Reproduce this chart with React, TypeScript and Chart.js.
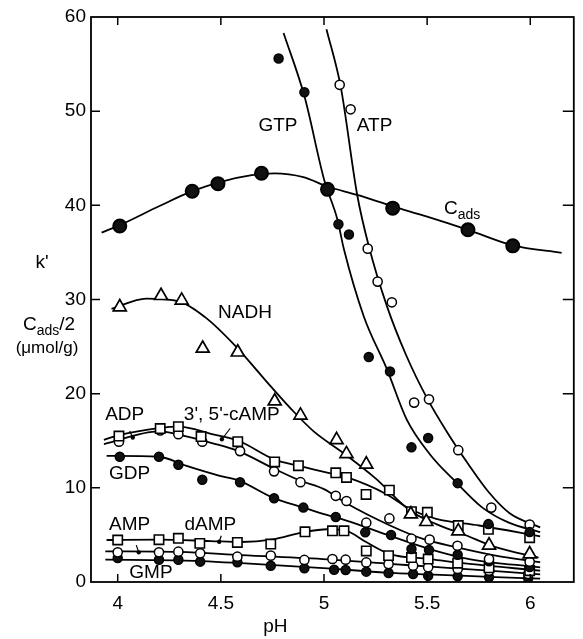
import { useEffect, useRef } from 'react';
import { Chart, registerables } from 'chart.js';

Chart.register(...registerables);

type P = [number, number];

// Axis ticks
const X_TICKS = [4, 4.5, 5, 5.5, 6];
const X_TICK_LABELS = ['4', '4.5', '5', '5.5', '6'];
const Y_TICKS = [0, 10, 20, 30, 40, 50, 60];
const Y_TICK_LABELS = ['0', '10', '20', '30', '40', '50', '60'];

// C_ads
const CADS_POINTS: P[] = [[4.01, 37.8], [4.361, 41.5], [4.486, 42.3], [4.697, 43.4], [5.017, 41.7], [5.333, 39.7], [5.698, 37.4], [5.915, 35.7]];
const CADS_CURVE: P[] = [[3.922, 37.1], [4.01, 37.9], [4.2, 39.9], [4.361, 41.5], [4.5, 42.5], [4.65, 43.2], [4.76, 43.4], [4.9, 43.0], [5.017, 42.0], [5.161, 41.1], [5.333, 39.9], [5.5, 38.8], [5.698, 37.4], [5.915, 35.75], [6.152, 34.96]];

// GTP
const GTP_POINTS: P[] = [[4.78, 55.6], [4.905, 52.0], [5.07, 38.0], [5.121, 36.9], [5.217, 23.9], [5.32, 22.35], [5.424, 14.3], [5.505, 15.3], [5.648, 10.5], [5.797, 6.15], [5.997, 5.3]];
const GTP_CURVE: P[] = [[4.804, 58.3], [4.905, 51.6], [5.001, 42.7], [5.065, 38.5], [5.097, 35.3], [5.193, 28.2], [5.305, 22.6], [5.4, 17.3], [5.512, 13.6], [5.64, 10.6], [5.768, 7.9], [5.896, 6.3], [6.048, 5.3]];

// ATP
const ATP_POINTS: P[] = [[5.076, 52.8], [5.129, 50.2], [5.212, 35.4], [5.26, 31.9], [5.329, 29.7], [5.437, 19.05], [5.509, 19.4], [5.651, 14.0], [5.811, 7.9], [5.997, 6.1]];
const ATP_CURVE: P[] = [[5.012, 58.7], [5.081, 52.6], [5.161, 41.1], [5.218, 35.6], [5.305, 29.3], [5.4, 24.0], [5.5, 19.5], [5.6, 15.8], [5.7, 12.5], [5.8, 9.5], [5.9, 7.3], [6.048, 5.8]];

// NADH
const NADH_POINTS: P[] = [[4.01, 29.2], [4.21, 30.4], [4.31, 29.9], [4.412, 24.8], [4.582, 24.4], [4.761, 19.2], [4.886, 17.7], [5.061, 15.1], [5.109, 13.6], [5.205, 12.5], [5.421, 7.2], [5.496, 6.4], [5.651, 5.4], [5.8, 3.9], [5.997, 2.97]];
const NADH_CURVE: P[] = [[3.97, 29.0], [4.138, 30.1], [4.297, 29.8], [4.425, 28.1], [4.569, 25.1], [4.713, 21.5], [4.857, 18.0], [4.95, 16.0], [5.1, 13.6], [5.25, 11.0], [5.416, 7.6], [5.544, 6.15], [5.672, 5.1], [5.832, 3.7], [6.04, 2.6]];

// ADP
const ADP_POINTS: P[] = [[4.006, 15.5], [4.206, 16.3], [4.294, 16.5], [4.404, 15.45], [4.582, 14.9], [4.761, 12.75], [4.876, 12.35], [5.057, 11.6], [5.109, 11.1], [5.204, 9.3], [5.317, 9.76], [5.424, 7.47], [5.501, 7.4], [5.651, 6.0], [5.797, 5.6], [5.997, 4.7]];
const ADP_CURVE: P[] = [[3.933, 15.1], [4.006, 15.6], [4.2, 16.35], [4.297, 16.5], [4.457, 15.7], [4.585, 15.0], [4.761, 13.0], [4.876, 12.35], [5.0, 11.7], [5.113, 11.1], [5.305, 9.3], [5.416, 7.75], [5.544, 6.7], [5.752, 6.0], [6.048, 4.85]];

// 3',5'-cAMP
const CAMP_POINTS: P[] = [[4.006, 14.9], [4.206, 16.1], [4.294, 15.7], [4.41, 14.9], [4.593, 13.9], [4.758, 11.75], [4.886, 10.6], [5.057, 9.15], [5.109, 8.6], [5.205, 6.3], [5.317, 6.75], [5.424, 4.6], [5.512, 4.5], [5.647, 3.85], [5.8, 2.44], [5.997, 2.15]];
const CAMP_CURVE: P[] = [[3.933, 14.65], [4.2, 16.0], [4.297, 15.65], [4.457, 14.75], [4.585, 13.9], [4.761, 12.0], [4.886, 10.75], [5.0, 9.86], [5.113, 8.3], [5.32, 6.0], [5.48, 4.57], [5.64, 3.7], [5.832, 2.8], [6.048, 2.1]];

// GDP
const GDP_POINTS: P[] = [[4.01, 13.3], [4.2, 13.3], [4.294, 12.45], [4.41, 10.85], [4.593, 10.6], [4.758, 8.9], [4.9, 7.9], [5.057, 6.9], [5.2, 5.27], [5.325, 5.0], [5.424, 3.5], [5.509, 3.4], [5.648, 2.9], [5.8, 2.2], [5.997, 1.6]];
const GDP_CURVE: P[] = [[3.946, 13.4], [4.2, 13.3], [4.33, 12.35], [4.49, 11.3], [4.585, 10.8], [4.758, 8.9], [4.9, 7.9], [5.0, 7.2], [5.113, 6.5], [5.32, 4.9], [5.512, 3.5], [5.704, 2.44], [6.048, 1.56]];

// dAMP
const DAMP_POINTS: P[] = [[4.0, 4.46], [4.2, 4.49], [4.294, 4.64], [4.398, 4.1], [4.58, 4.2], [4.742, 4.03], [4.908, 5.33], [5.041, 5.44], [5.097, 5.44], [5.205, 3.3], [5.313, 2.8], [5.424, 2.6], [5.505, 2.44], [5.648, 2.0], [5.8, 1.5], [5.997, 1.2]];
const DAMP_CURVE: P[] = [[3.946, 4.46], [4.2, 4.5], [4.45, 4.35], [4.6, 4.25], [4.745, 4.5], [4.908, 5.33], [5.017, 5.6], [5.109, 5.44], [5.2, 4.3], [5.32, 2.97], [5.512, 2.44], [5.672, 2.0], [6.048, 1.2]];

// AMP
const AMP_POINTS: P[] = [[4.0, 3.15], [4.2, 3.15], [4.294, 3.22], [4.4, 3.04], [4.58, 2.69], [4.742, 2.8], [4.905, 2.34], [5.041, 2.44], [5.105, 2.37], [5.205, 2.08], [5.313, 1.9], [5.432, 1.73], [5.505, 1.56], [5.648, 1.38], [5.8, 1.2], [5.99, 0.85]];
const AMP_CURVE: P[] = [[3.94, 3.26], [4.3, 3.2], [4.6, 2.85], [5.017, 2.4], [5.3, 1.95], [5.5, 1.65], [5.8, 1.2], [6.048, 0.8]];

// GMP
const GMP_POINTS: P[] = [[4.0, 2.55], [4.2, 2.37], [4.294, 2.37], [4.4, 2.16], [4.58, 2.09], [4.742, 1.73], [4.905, 1.45], [5.049, 1.3], [5.105, 1.27], [5.205, 1.1], [5.313, 0.95], [5.432, 0.85], [5.505, 0.67], [5.648, 0.6], [5.8, 0.5], [5.99, 0.39]];
const GMP_CURVE: P[] = [[3.94, 2.37], [4.3, 2.3], [4.6, 2.0], [5.017, 1.45], [5.3, 1.0], [5.5, 0.8], [5.8, 0.55], [6.048, 0.35]];

// In-plot labels (data coordinates of label centre)
const CURVE_LABELS: { text: string; sub?: string; x: number; y: number; size: number }[] = [
  { text: 'GTP', x: 4.777, y: 48.5, size: 19 },
  { text: 'ATP', x: 5.245, y: 48.5, size: 19 },
  { text: 'C', sub: 'ads', x: 5.67, y: 39.6, size: 19 },
  { text: 'NADH', x: 4.617, y: 28.6, size: 19 },
  { text: 'ADP', x: 4.034, y: 17.8, size: 19 },
  { text: "3', 5'-cAMP", x: 4.553, y: 17.8, size: 19 },
  { text: 'GDP', x: 4.058, y: 11.45, size: 19 },
  { text: 'AMP', x: 4.058, y: 6.05, size: 19 },
  { text: 'dAMP', x: 4.449, y: 6.05, size: 19 },
  { text: 'GMP', x: 4.161, y: 1.03, size: 19 },
];

// Leader lines from labels to curves: [x1, y1, x2, y2]
const LEADERS: [number, number, number, number][] = [
  [4.058, 16.04, 4.073, 15.34],
  [4.545, 16.3, 4.505, 15.16],
  [4.09, 3.92, 4.102, 3.15],
  [4.502, 4.91, 4.492, 4.27],
];

const FONT = '"Liberation Sans", Arial, sans-serif';

const toXY = (arr: P[]) => arr.map(([x, y]) => ({ x, y }));

function pointSet(label: string, data: P[], style: string, radius: number, filled: boolean, border = 1.5) {
  return {
    label,
    data: toXY(data),
    showLine: false,
    pointStyle: style,
    pointRadius: radius,
    pointBackgroundColor: filled ? '#111' : '#fff',
    pointBorderColor: '#000',
    pointBorderWidth: border,
    order: 1,
  };
}

function curveSet(label: string, data: P[]) {
  return {
    label,
    data: toXY(data),
    showLine: true,
    pointRadius: 0,
    borderColor: '#000',
    borderWidth: 1.8,
    cubicInterpolationMode: 'monotone',
    fill: false,
    order: 2,
  };
}

const framePlugin = {
  id: 'frameAndText',
  afterDraw(chart: any) {
    const { ctx, chartArea: a, scales } = chart;
    const xs = scales.x;
    const ys = scales.y;
    ctx.save();
    ctx.strokeStyle = '#000';
    ctx.lineWidth = 1.8;
    ctx.strokeRect(a.left, a.top, a.right - a.left, a.bottom - a.top);
    ctx.lineWidth = 1.5;
    ctx.beginPath();
    X_TICKS.forEach((v) => {
      const px = xs.getPixelForValue(v);
      ctx.moveTo(px, a.bottom);
      ctx.lineTo(px, a.bottom - 8);
      ctx.moveTo(px, a.top);
      ctx.lineTo(px, a.top + 8);
    });
    Y_TICKS.slice(1, -1).forEach((v) => {
      const py = ys.getPixelForValue(v);
      ctx.moveTo(a.left, py);
      ctx.lineTo(a.left + 9, py);
      ctx.moveTo(a.right, py);
      ctx.lineTo(a.right - 11, py);
    });
    ctx.stroke();

    // leader lines
    ctx.lineWidth = 1.2;
    LEADERS.forEach(([x1, y1, x2, y2]) => {
      const p1x = xs.getPixelForValue(x1), p1y = ys.getPixelForValue(y1);
      const p2x = xs.getPixelForValue(x2), p2y = ys.getPixelForValue(y2);
      ctx.beginPath();
      ctx.moveTo(p1x, p1y);
      ctx.lineTo(p2x, p2y);
      ctx.stroke();
      ctx.beginPath();
      ctx.arc(p2x, p2y, 2.2, 0, Math.PI * 2);
      ctx.fillStyle = '#000';
      ctx.fill();
    });

    ctx.fillStyle = '#000';
    ctx.textBaseline = 'middle';
    const drawRich = (parts: { t: string; size: number; dy: number }[], cx: number, cy: number) => {
      let total = 0;
      parts.forEach((p) => {
        ctx.font = `${p.size}px ${FONT}`;
        total += ctx.measureText(p.t).width;
      });
      let x = cx - total / 2;
      ctx.textAlign = 'left';
      parts.forEach((p) => {
        ctx.font = `${p.size}px ${FONT}`;
        ctx.fillText(p.t, x, cy + p.dy);
        x += ctx.measureText(p.t).width;
      });
    };

    CURVE_LABELS.forEach((l) => {
      const cx = xs.getPixelForValue(l.x);
      const cy = ys.getPixelForValue(l.y);
      const parts = [{ t: l.text, size: l.size, dy: 0 }];
      if (l.sub) parts.push({ t: l.sub, size: 14, dy: 6 });
      drawRich(parts, cx, cy);
    });

    // y-axis title block (left of axis)
    drawRich([{ t: "k'", size: 19, dy: 0 }], 42, 263);
    drawRich([
      { t: 'C', size: 19, dy: 0 },
      { t: 'ads', size: 14, dy: 6 },
      { t: '/2', size: 19, dy: 0 },
    ], 49, 325);
    drawRich([{ t: '(μmol/g)', size: 17, dy: 0 }], 47, 348);

    // x-axis title
    drawRich([{ t: 'pH', size: 19, dy: 0 }], xs.getPixelForValue(4.764), 627);
    ctx.restore();
  },
};

export default function App() {
  const ref = useRef<HTMLCanvasElement>(null);
  useEffect(() => {
    if (!ref.current) return;
    const datasets: any[] = [
      curveSet('Cads curve', CADS_CURVE),
      curveSet('GTP curve', GTP_CURVE),
      curveSet('ATP curve', ATP_CURVE),
      curveSet('NADH curve', NADH_CURVE),
      curveSet('ADP curve', ADP_CURVE),
      curveSet('cAMP curve', CAMP_CURVE),
      curveSet('GDP curve', GDP_CURVE),
      curveSet('dAMP curve', DAMP_CURVE),
      curveSet('AMP curve', AMP_CURVE),
      curveSet('GMP curve', GMP_CURVE),
      pointSet('Cads', CADS_POINTS, 'circle', 6.5, true, 2),
      pointSet('GTP', GTP_POINTS, 'circle', 4.5, true),
      pointSet('ATP', ATP_POINTS, 'circle', 4.6, false),
      pointSet('NADH', NADH_POINTS, 'triangle', 7.5, false, 1.7),
      pointSet('ADP', ADP_POINTS, 'rect', 6.6, false, 1.6),
      pointSet("3',5'-cAMP", CAMP_POINTS, 'circle', 4.6, false),
      pointSet('GDP', GDP_POINTS, 'circle', 4.5, true),
      pointSet('dAMP', DAMP_POINTS, 'rect', 6.6, false, 1.6),
      pointSet('AMP', AMP_POINTS, 'circle', 4.6, false),
      pointSet('GMP', GMP_POINTS, 'circle', 4.5, true),
    ];
    const chart = new Chart(ref.current, {
      type: 'scatter',
      data: { datasets },
      options: {
        responsive: false,
        animation: false,
        devicePixelRatio: 1,
        layout: { padding: { left: 0, top: 17, right: 4, bottom: 0 } },
        plugins: { legend: { display: false }, tooltip: { enabled: false } },
        events: [],
        scales: {
          x: {
            type: 'linear',
            min: 3.8705,
            max: 6.211,
            afterBuildTicks: (s: any) => {
              s.ticks = X_TICKS.map((v) => ({ value: v }));
            },
            afterFit: (s: any) => {
              s.height = 57;
            },
            ticks: {
              autoSkip: false,
              maxRotation: 0,
              padding: 10,
              color: '#000',
              font: { family: FONT, size: 19 },
              callback: (v: any) => X_TICK_LABELS[X_TICKS.indexOf(Number(v))] ?? '',
            },
            grid: { display: false, drawTicks: false },
            border: { display: false },
          },
          y: {
            type: 'linear',
            min: 0,
            max: 60,
            afterBuildTicks: (s: any) => {
              s.ticks = Y_TICKS.map((v) => ({ value: v }));
            },
            afterFit: (s: any) => {
              s.width = 91;
            },
            ticks: {
              padding: 5,
              color: '#000',
              font: { family: FONT, size: 19 },
              callback: (v: any) => Y_TICK_LABELS[Y_TICKS.indexOf(Number(v))] ?? '',
            },
            grid: { display: false, drawTicks: false },
            border: { display: false },
          },
        },
      } as any,
      plugins: [framePlugin],
    });
    return () => chart.destroy();
  }, []);
  return (
    <div style={{ position: 'absolute', left: 0, top: 0, width: 583, height: 639, background: '#fff' }}>
      <canvas ref={ref} width={583} height={639} style={{ display: 'block' }} />
    </div>
  );
}
